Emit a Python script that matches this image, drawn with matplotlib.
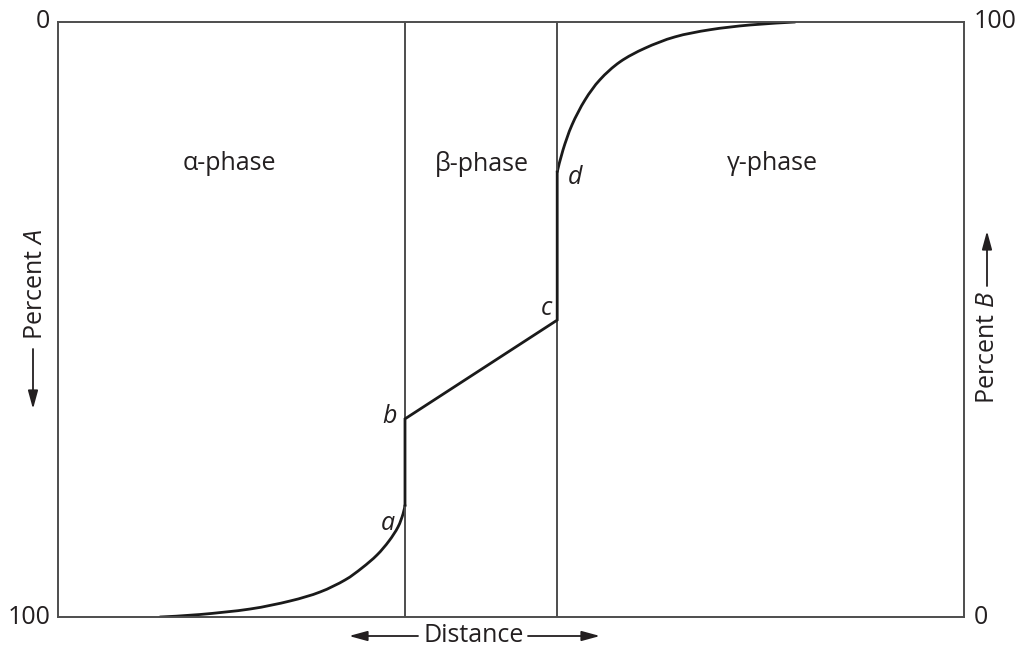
import numpy as np
import matplotlib
matplotlib.use("Agg")
import matplotlib.pyplot as plt
from matplotlib.path import Path
from matplotlib.patches import PathPatch

plt.rcParams["font.family"] = ["Open Sans", "DejaVu Sans"]
plt.rcParams["mathtext.fontset"] = "custom"
plt.rcParams["mathtext.rm"] = "Open Sans"
plt.rcParams["mathtext.it"] = "Open Sans:italic"

# Composition profile across the three phases (distance 0-100, percent B 0-100)
alpha_x = [11.26, 15.67, 21.19, 25.61, 28.92, 31.68, 33.55, 35.21, 36.53, 37.53, 38.08, 38.3]
alpha_b = [0.0, 0.42, 1.34, 2.69, 4.2, 6.22, 8.24, 10.42, 12.77, 15.13, 17.31, 18.8]
beta_x = [38.3, 38.3, 55.1, 55.1]
beta_b = [18.8, 33.3, 49.9, 74.8]
gamma_x = [55.1, 55.74, 56.73, 58.17, 59.82, 62.03, 64.79, 68.1, 71.96, 76.38, 81.35]
gamma_b = [74.8, 78.5, 82.7, 86.9, 90.3, 93.3, 95.6, 97.5, 98.7, 99.5, 100.0]

boundaries = [38.3, 55.1]
phase_names = ["α-phase", "β-phase", "γ-phase"]
phase_x = [18.9, 46.8, 78.8]
point_names = ["a", "b", "c", "d"]

W, H = 1021, 648
fig = plt.figure(figsize=(W / 100, H / 100), dpi=100)
ax = fig.add_axes([58 / W, 1 - 617 / H, (964 - 58) / W, (617 - 22) / H])
ax.set_xlim(0, 100)
ax.set_ylim(0, 100)

frame_col = "#4d4d4d"
ink = "#231f20"
for s in ax.spines.values():
    s.set_color(frame_col)
    s.set_linewidth(1.4)
ax.set_xticks([])
ax.set_yticks([])

for bx in boundaries:
    ax.axvline(bx, color=frame_col, lw=1.4)


def smooth_path(xs, ys):
    """Cubic Bezier path through the given points (Catmull-Rom tangents)."""
    p = np.column_stack([xs, ys]).astype(float)
    n = len(p)
    verts = [p[0]]
    codes = [Path.MOVETO]
    for i in range(n - 1):
        p0 = p[i - 1] if i > 0 else p[i]
        p1, p2 = p[i], p[i + 1]
        p3 = p[i + 2] if i + 2 < n else p[i + 1]
        c1 = p1 + (p2 - p0) / 6.0
        c2 = p2 - (p3 - p1) / 6.0
        verts += [c1, c2, p2]
        codes += [Path.CURVE4] * 3
    return verts, codes


line_kw = dict(facecolor="none", edgecolor="#1a1a1a", lw=2.0, joinstyle="round", capstyle="round")

v, c = smooth_path(alpha_x, alpha_b)
ax.add_patch(PathPatch(Path(v, c), **line_kw))
ax.plot(beta_x, beta_b, color="#1a1a1a", lw=2.0, solid_joinstyle="miter")
v, c = smooth_path(gamma_x, gamma_b)
ax.add_patch(PathPatch(Path(v, c), **line_kw))

fs = 18
for name, px in zip(phase_names, phase_x):
    ax.text(px, 76.2, name, ha="center", va="center", fontsize=fs, color=ink)

# point labels placed next to the characteristic points of the profile
pts = [(alpha_x[-1], alpha_b[-1]), (beta_x[1], beta_b[1]), (beta_x[2], beta_b[2]), (beta_x[3], beta_b[3])]
offs = [(-17, -18), (-15, 2), (-11, 12), (18, -6)]
for name, (px, py), (dx, dy) in zip(point_names, pts, offs):
    ax.annotate(name, (px, py), xytext=(dx, dy), textcoords="offset pixels",
                ha="center", va="center", fontsize=fs, style="italic", color=ink)

# scale end labels
txt = dict(fontsize=fs, color=ink)
fig.text(43 / W, 1 - 21 / H, "0", ha="center", va="center", **txt)
fig.text(51 / W, 1 - 617 / H, "100", ha="right", va="center", **txt)
fig.text(974 / W, 1 - 21 / H, "100", ha="left", va="center", **txt)
fig.text(974 / W, 1 - 617 / H, "0", ha="left", va="center", **txt)


def fp(x, y):
    return (x, H - y)


arrow = dict(arrowstyle="-|>,head_length=1.1,head_width=0.3", color=ink, lw=1.3,
             shrinkA=0, shrinkB=0)


def draw_arrow(head, tail):
    ax.annotate("", xy=fp(*head), xytext=fp(*tail), xycoords="figure pixels",
                textcoords="figure pixels", arrowprops=arrow, annotation_clip=False)


# Distance label with arrows
fig.text(474 / W, 1 - 635 / H, "Distance", ha="center", va="center", **txt)
draw_arrow((349, 636), (418, 636))
draw_arrow((600, 636), (528, 636))

# Percent A (left, pointing down)
fig.text(35 / W, 1 - 285 / H, r"Percent $\it{A}$", rotation=90, ha="center", va="center", **txt)
draw_arrow((33, 409), (33, 349))

# Percent B (right, pointing up)
fig.text(987 / W, 1 - 348 / H, r"Percent $\it{B}$", rotation=90, ha="center", va="center", **txt)
draw_arrow((987, 231), (987, 286))

fig.savefig("out.png", dpi=100)
